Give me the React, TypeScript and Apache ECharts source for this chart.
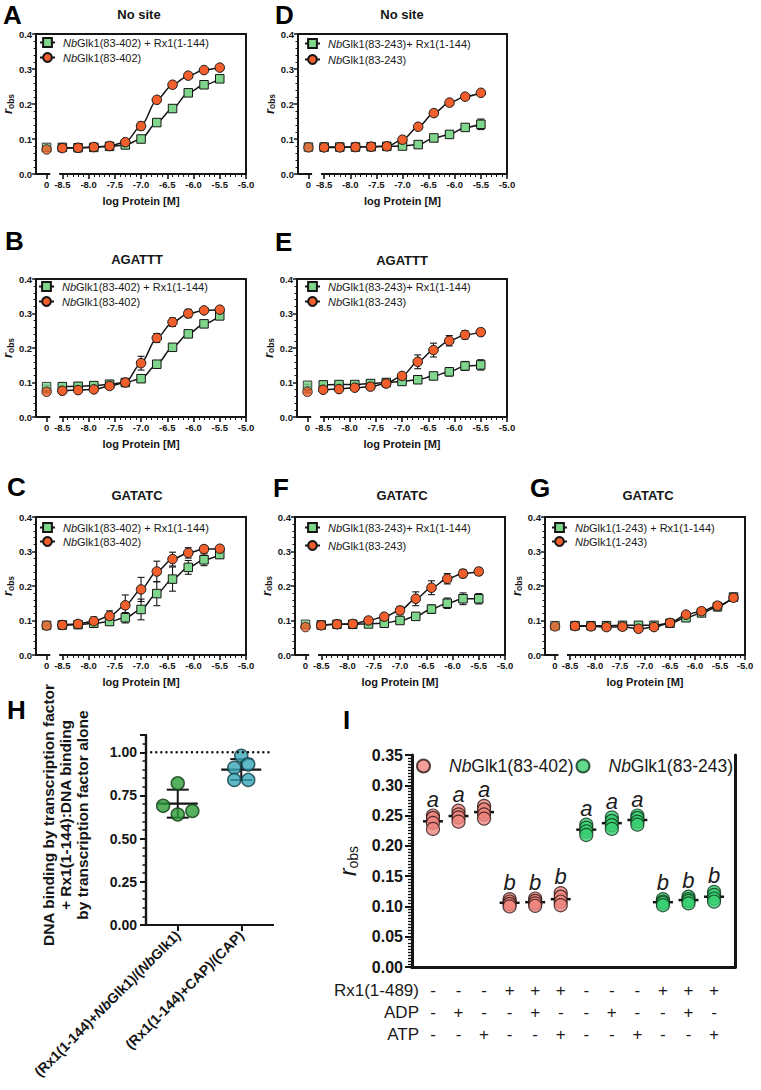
import React, { useEffect, useRef } from 'react';
import * as echarts from 'echarts';

const FONT = '"Liberation Sans", Arial, Helvetica, sans-serif';
const INK = '#151515';
const GREEN_SQ = '#80d68c';
const RED_CI = '#f1602c';

// ---------------- data ----------------
// log10 protein concentration (M) of the titration points
const logProtein = [-8.5, -8.2, -7.9, -7.6, -7.3, -7.0, -6.7, -6.4, -6.1, -5.8, -5.5];
const logProteinG = [-8.4, -8.08, -7.77, -7.45, -7.13, -6.82, -6.5, -6.18, -5.87, -5.55, -5.23];
const xTickValues = [-8.5, -8.0, -7.5, -7.0, -6.5, -6.0, -5.5, -5.0];
const zeroLabel = '0';

// r_obs values; first entry = no-protein control ("0")
const aPlusRx = [0.076, 0.076, 0.075, 0.076, 0.079, 0.083, 0.100, 0.147, 0.187, 0.232, 0.255, 0.272];
const aPlusRxErr = [0.004, 0.003, 0.003, 0.003, 0.003, 0.004, 0.006, 0.005, 0.005, 0.005, 0.005, 0.005];
const aAlone = [0.070, 0.074, 0.075, 0.077, 0.080, 0.091, 0.137, 0.212, 0.255, 0.281, 0.297, 0.304];
const aAloneErr = [0.003, 0.003, 0.003, 0.003, 0.003, 0.004, 0.011, 0.005, 0.005, 0.004, 0.004, 0.004];

const bPlusRx = [0.088, 0.088, 0.089, 0.091, 0.095, 0.100, 0.111, 0.153, 0.202, 0.241, 0.270, 0.293];
const bPlusRxErr = [0.004, 0.004, 0.004, 0.004, 0.004, 0.004, 0.010, 0.006, 0.006, 0.006, 0.006, 0.006];
const bAlone = [0.073, 0.076, 0.078, 0.080, 0.090, 0.100, 0.156, 0.229, 0.275, 0.300, 0.309, 0.311];
const bAloneErr = [0.003, 0.003, 0.003, 0.003, 0.003, 0.004, 0.020, 0.013, 0.012, 0.012, 0.008, 0.005];

const cPlusRx = [0.086, 0.087, 0.088, 0.092, 0.097, 0.108, 0.132, 0.178, 0.220, 0.254, 0.276, 0.291];
const cPlusRxErr = [0.003, 0.003, 0.004, 0.006, 0.010, 0.015, 0.030, 0.035, 0.035, 0.020, 0.017, 0.010];
const cAlone = [0.085, 0.087, 0.090, 0.098, 0.113, 0.144, 0.190, 0.242, 0.278, 0.296, 0.307, 0.308];
const cAloneErr = [0.003, 0.004, 0.006, 0.012, 0.015, 0.030, 0.035, 0.030, 0.020, 0.015, 0.010, 0.008];

const dPlusRx = [0.077, 0.077, 0.077, 0.077, 0.078, 0.079, 0.080, 0.084, 0.103, 0.113, 0.133, 0.142];
const dPlusRxErr = [0.003, 0.003, 0.003, 0.003, 0.003, 0.003, 0.004, 0.004, 0.005, 0.006, 0.008, 0.015];
const dAlone = [0.076, 0.076, 0.076, 0.077, 0.078, 0.079, 0.098, 0.135, 0.174, 0.204, 0.221, 0.232];
const dAloneErr = [0.003, 0.003, 0.003, 0.003, 0.003, 0.003, 0.004, 0.008, 0.008, 0.005, 0.004, 0.004];

const ePlusRx = [0.092, 0.093, 0.094, 0.094, 0.097, 0.100, 0.103, 0.108, 0.119, 0.131, 0.148, 0.151];
const ePlusRxErr = [0.003, 0.003, 0.003, 0.003, 0.003, 0.004, 0.005, 0.006, 0.008, 0.012, 0.013, 0.015];
const eAlone = [0.073, 0.079, 0.081, 0.085, 0.088, 0.097, 0.119, 0.160, 0.194, 0.221, 0.238, 0.246];
const eAloneErr = [0.003, 0.003, 0.003, 0.003, 0.003, 0.004, 0.006, 0.020, 0.020, 0.015, 0.012, 0.010];

const fPlusRx = [0.089, 0.087, 0.089, 0.089, 0.090, 0.092, 0.100, 0.112, 0.133, 0.150, 0.163, 0.163];
const fPlusRxErr = [0.003, 0.003, 0.003, 0.003, 0.003, 0.004, 0.005, 0.008, 0.012, 0.015, 0.017, 0.015];
const fAlone = [0.081, 0.086, 0.089, 0.090, 0.100, 0.111, 0.129, 0.163, 0.195, 0.221, 0.236, 0.242];
const fAloneErr = [0.003, 0.003, 0.003, 0.003, 0.005, 0.007, 0.012, 0.020, 0.020, 0.015, 0.012, 0.010];

const gPlusRx = [0.085, 0.085, 0.085, 0.085, 0.086, 0.086, 0.086, 0.092, 0.108, 0.122, 0.140, 0.168];
const gPlusRxErr = [0.003, 0.003, 0.003, 0.003, 0.003, 0.003, 0.003, 0.004, 0.005, 0.010, 0.012, 0.006];
const gAlone = [0.083, 0.084, 0.083, 0.081, 0.082, 0.076, 0.081, 0.093, 0.117, 0.127, 0.143, 0.166];
const gAloneErr = [0.003, 0.003, 0.003, 0.003, 0.003, 0.003, 0.003, 0.003, 0.004, 0.005, 0.006, 0.006];

// panel H: ratio of DNA binding
const hCategories = ['(Rx1(1-144)+NbGlk1)/(NbGlk1)', '(Rx1(1-144)+CAP)/(CAP)'];
const hRxNbGlk1 = [0.82, 0.69, 0.66, 0.64];
const hRxCap = [0.98, 0.93, 0.91, 0.84, 0.84];

// panel I: r_obs replicates per condition
const i402 = [
  [0.250, 0.246, 0.238, 0.228],
  [0.258, 0.252, 0.247, 0.240],
  [0.266, 0.260, 0.252, 0.245],
  [0.112, 0.108, 0.104, 0.100],
  [0.113, 0.109, 0.105, 0.101],
  [0.122, 0.116, 0.108, 0.102],
];
const i243 = [
  [0.235, 0.230, 0.224, 0.218],
  [0.247, 0.241, 0.234, 0.228],
  [0.250, 0.246, 0.240, 0.235],
  [0.112, 0.108, 0.106, 0.102],
  [0.116, 0.112, 0.109, 0.105],
  [0.124, 0.119, 0.113, 0.108],
];
const iLetters = ['a', 'a', 'a', 'b', 'b', 'b', 'a', 'a', 'a', 'b', 'b', 'b'];
const rx1Row = ['-', '-', '-', '+', '+', '+', '-', '-', '-', '+', '+', '+'];
const adpRow = ['-', '+', '-', '-', '+', '-', '-', '+', '-', '-', '+', '-'];
const atpRow = ['-', '-', '+', '-', '-', '+', '-', '-', '+', '-', '-', '+'];
const rowNames = ['Rx1(1-489)', 'ADP', 'ATP'];

// ---------------- layout ----------------
const ZERO_AT = -8.8; // axis position of the "0" control on the broken axis

const curvePanels = [
  { id: 'A', title: 'No site', box: { left: 33, top: 34, width: 213, height: 140 }, letterXY: [3, 2], titleXY: [139, 14], leg: { left: 39, top: 37, gap: 4 },
    conc: logProtein, plus: aPlusRx, plusErr: aPlusRxErr, alone: aAlone, aloneErr: aAloneErr, plusLabel: 'NbGlk1(83-402) + Rx1(1-144)', aloneLabel: 'NbGlk1(83-402)' },
  { id: 'D', title: 'No site', box: { left: 298, top: 34, width: 209, height: 140 }, letterXY: [275, 2], titleXY: [402, 14], leg: { left: 304, top: 38, gap: 5 },
    conc: logProtein, plus: dPlusRx, plusErr: dPlusRxErr, alone: dAlone, aloneErr: dAloneErr, plusLabel: 'NbGlk1(83-243)+ Rx1(1-144)', aloneLabel: 'NbGlk1(83-243)' },
  { id: 'B', title: 'AGATTT', box: { left: 33, top: 279, width: 213, height: 138 }, letterXY: [5, 228], titleXY: [137, 259], leg: { left: 38, top: 281, gap: 4 },
    conc: logProtein, plus: bPlusRx, plusErr: bPlusRxErr, alone: bAlone, aloneErr: bAloneErr, plusLabel: 'NbGlk1(83-402) + Rx1(1-144)', aloneLabel: 'NbGlk1(83-402)' },
  { id: 'E', title: 'AGATTT', box: { left: 297, top: 279, width: 210, height: 138 }, letterXY: [275, 229], titleXY: [402, 260], leg: { left: 304, top: 281, gap: 4 },
    conc: logProtein, plus: ePlusRx, plusErr: ePlusRxErr, alone: eAlone, aloneErr: eAloneErr, plusLabel: 'NbGlk1(83-243)+ Rx1(1-144)', aloneLabel: 'NbGlk1(83-243)' },
  { id: 'C', title: 'GATATC', box: { left: 33, top: 517, width: 213, height: 138 }, letterXY: [7, 474], titleXY: [137, 495], leg: { left: 39, top: 522, gap: 3 },
    conc: logProtein, plus: cPlusRx, plusErr: cPlusRxErr, alone: cAlone, aloneErr: cAloneErr, plusLabel: 'NbGlk1(83-402) + Rx1(1-144)', aloneLabel: 'NbGlk1(83-402)' },
  { id: 'F', title: 'GATATC', box: { left: 295, top: 517, width: 210, height: 138 }, letterXY: [273, 475], titleXY: [402, 495], leg: { left: 304, top: 522, gap: 7 },
    conc: logProtein, plus: fPlusRx, plusErr: fPlusRxErr, alone: fAlone, aloneErr: fAloneErr, plusLabel: 'NbGlk1(83-243)+ Rx1(1-144)', aloneLabel: 'NbGlk1(83-243)' },
  { id: 'G', title: 'GATATC', box: { left: 545, top: 517, width: 200, height: 138 }, letterXY: [530, 475], titleXY: [648, 495], leg: { left: 551, top: 522, gap: 3 },
    conc: logProteinG, plus: gPlusRx, plusErr: gPlusRxErr, alone: gAlone, aloneErr: gAloneErr, plusLabel: 'NbGlk1(1-243) + Rx1(1-144)', aloneLabel: 'NbGlk1(1-243)' },
];

const hJitter1 = [0, -0.23, 0.23, 0];
const hJitter2 = [0, 0.11, -0.11, -0.11, 0.11];

// ---------------- helpers ----------------
const italicNb = (s: string) => s.replace(/Nb/g, '{i|Nb}');
const mean = (a: number[]) => a.reduce((s, v) => s + v, 0) / a.length;
const sd = (a: number[]) => {
  const m = mean(a);
  return Math.sqrt(a.reduce((s, v) => s + (v - m) * (v - m), 0) / (a.length - 1));
};

function errorBars(capHalf: number, width: number) {
  return (_params: any, api: any) => {
    const x = api.value(0), y = api.value(1), e = api.value(2);
    const hi = api.coord([x, y + e]);
    const lo = api.coord([x, y - e]);
    const st = { stroke: INK, lineWidth: width };
    return {
      type: 'group',
      children: [
        { type: 'line', shape: { x1: hi[0], y1: hi[1], x2: lo[0], y2: lo[1] }, style: st },
        { type: 'line', shape: { x1: hi[0] - capHalf, y1: hi[1], x2: hi[0] + capHalf, y2: hi[1] }, style: st },
        { type: 'line', shape: { x1: lo[0] - capHalf, y1: lo[1], x2: lo[0] + capHalf, y2: lo[1] }, style: st },
      ],
    };
  };
}

function meanSd(meanHalf: number, meanW: number, capHalf: number, barW: number) {
  return (_params: any, api: any) => {
    const x = api.value(0), m = api.value(1), e = api.value(2);
    const c = api.coord([x, m]);
    const hi = api.coord([x, m + e]);
    const lo = api.coord([x, m - e]);
    const st = { stroke: INK, lineWidth: barW };
    return {
      type: 'group',
      children: [
        { type: 'line', shape: { x1: hi[0], y1: hi[1], x2: lo[0], y2: lo[1] }, style: st },
        { type: 'line', shape: { x1: hi[0] - capHalf, y1: hi[1], x2: hi[0] + capHalf, y2: hi[1] }, style: st },
        { type: 'line', shape: { x1: lo[0] - capHalf, y1: lo[1], x2: lo[0] + capHalf, y2: lo[1] }, style: st },
        { type: 'line', shape: { x1: c[0] - meanHalf, y1: c[1], x2: c[0] + meanHalf, y2: c[1] }, style: { stroke: INK, lineWidth: meanW } },
      ],
    };
  };
}

const axisSegment = (_params: any, api: any) => {
  const a = api.coord([api.value(0), api.value(1)]);
  const b = api.coord([api.value(2), api.value(1)]);
  return { type: 'line', shape: { x1: a[0], y1: a[1], x2: b[0], y2: b[1] }, style: { stroke: INK, lineWidth: 2 } };
};

const panelLetter = (text: string, x: number, y: number) => ({
  type: 'text', x, y,
  style: { text, fontFamily: FONT, fontSize: 26, fontWeight: 'bold', fill: '#000', align: 'left', verticalAlign: 'top' },
});

function buildOption(): any {
  const grid: any[] = [];
  const xAxis: any[] = [];
  const yAxis: any[] = [];
  const series: any[] = [];
  const legend: any[] = [];
  const graphic: any[] = [];
  const nameText: Record<string, string> = {};

  const hidden = { show: false };
  const box = (w: number) => ({ show: true, lineStyle: { color: INK, width: w } });
  const txt = { fontFamily: FONT, color: INK };

  const minorX: number[] = [];
  for (let i = 0; i < xTickValues.length - 1; i++) {
    for (let k = 1; k < 5; k++) minorX.push(+(xTickValues[i] + k * 0.1).toFixed(2));
  }
  const majorsX = [ZERO_AT, ...xTickValues];

  curvePanels.forEach((p) => {
    const gi = grid.length;
    grid.push({ left: p.box.left, top: p.box.top, width: p.box.width, height: p.box.height });
    const xi = xAxis.length;
    xAxis.push({
      gridIndex: gi, type: 'value', position: 'bottom', min: -9, max: -5,
      axisLine: hidden, splitLine: hidden,
      axisTick: { show: true, customValues: majorsX, length: 5, lineStyle: { color: INK, width: 1.6 } },
      axisLabel: {
        show: true, customValues: majorsX, ...txt, fontSize: 9.5, fontWeight: 'bold', margin: 5,
        formatter: (v: number) => (Math.abs(v - ZERO_AT) < 1e-6 ? zeroLabel : v.toFixed(1)),
      },
      name: 'log Protein [M]', nameLocation: 'middle', nameGap: 21,
      nameTextStyle: { ...txt, fontSize: 11, fontWeight: 'bold' },
    });
    xAxis.push({
      gridIndex: gi, type: 'value', position: 'bottom', min: -9, max: -5, axisLine: hidden, splitLine: hidden,
      axisTick: { show: true, customValues: minorX, length: 3, lineStyle: { color: INK, width: 1 } }, axisLabel: hidden,
    });
    xAxis.push({ gridIndex: gi, type: 'value', position: 'top', min: -9, max: -5, axisLine: box(2), axisTick: hidden, axisLabel: hidden, splitLine: hidden });
    const yi = yAxis.length;
    yAxis.push({
      gridIndex: gi, type: 'value', position: 'left', min: 0, max: 0.4, interval: 0.1,
      axisLine: box(2), splitLine: hidden,
      axisTick: { show: true, length: 4, lineStyle: { color: INK, width: 1.5 } },
      minorTick: { show: true, splitNumber: 5, length: 2.5, lineStyle: { color: INK, width: 1 } },
      axisLabel: { ...txt, fontSize: 9.5, fontWeight: 'bold', margin: 4, formatter: (v: number) => v.toFixed(1) },
      name: '{r|r}{s|obs}', nameLocation: 'middle', nameGap: 11, nameRotate: 90,
      nameTextStyle: {
        rich: {
          r: { fontFamily: FONT, fontSize: 13, fontStyle: 'italic', fontWeight: 'bold', color: INK },
          s: { fontFamily: FONT, fontSize: 8.5, fontWeight: 'bold', color: INK, padding: [6, 0, 0, 0] },
        },
      },
    });
    yAxis.push({ gridIndex: gi, type: 'value', position: 'right', min: 0, max: 0.4, axisLine: box(2), axisTick: hidden, axisLabel: hidden, splitLine: hidden });

    const ax = { xAxisIndex: xi, yAxisIndex: yi };
    series.push({ type: 'custom', ...ax, silent: true, data: [[-9, 0, -8.73], [-8.56, 0, -5]], renderItem: axisSegment });

    const addSample = (id: string, label: string, vals: number[], errs: number[], symbol: string, color: string, size: number) => {
      nameText[id] = label;
      series.push({
        type: 'custom', ...ax, silent: true, renderItem: errorBars(3.5, 1.1),
        data: [[ZERO_AT, vals[0], errs[0]], ...p.conc.map((c, i) => [c, vals[i + 1], errs[i + 1]])],
      });
      const style = { color, borderColor: INK, borderWidth: 1 };
      series.push({
        type: 'line', name: id, ...ax, data: p.conc.map((c, i) => [c, vals[i + 1]]),
        symbol, symbolSize: size, smooth: 0.3, smoothMonotone: 'x', itemStyle: style,
        lineStyle: { color: INK, width: 1.5 }, emphasis: { disabled: true },
      });
      series.push({
        type: 'scatter', name: id + '_ctrl', ...ax, data: [[ZERO_AT, vals[0]]],
        symbol, symbolSize: size, itemStyle: style, emphasis: { disabled: true },
      });
    };
    addSample(p.id + '_plus', p.plusLabel, p.plus, p.plusErr, 'rect', GREEN_SQ, 8.5);
    addSample(p.id + '_alone', p.aloneLabel, p.alone, p.aloneErr, 'circle', RED_CI, 9.5);

    legend.push({
      show: true, left: p.leg.left, top: p.leg.top, orient: 'vertical', padding: 0, itemGap: p.leg.gap,
      itemWidth: 15, itemHeight: 11, selectedMode: false,
      data: [p.id + '_plus', p.id + '_alone'],
      formatter: (name: string) => italicNb(nameText[name] || name),
      textStyle: {
        fontFamily: FONT, fontSize: 11, color: '#1a1a1a', padding: [0, 0, 0, 3],
        rich: { i: { fontFamily: FONT, fontSize: 11, fontStyle: 'italic', color: '#1a1a1a' } },
      },
    });

    graphic.push(panelLetter(p.id, p.letterXY[0], p.letterXY[1]));
    graphic.push({ type: 'text', x: p.titleXY[0], y: p.titleXY[1], style: { text: p.title, fontFamily: FONT, fontSize: 13, fontWeight: 'bold', fill: INK, align: 'center', verticalAlign: 'middle' } });
  });

  // ---------------- panel H ----------------
  {
    const gi = grid.length;
    grid.push({ left: 146, top: 735, width: 127, height: 190 });
    const xi = xAxis.length;
    xAxis.push({
      gridIndex: gi, type: 'value', position: 'bottom', min: 0, max: 2, splitLine: hidden,
      axisLine: box(2.2),
      axisTick: { show: true, customValues: [0.5, 1.5], length: 6, lineStyle: { color: INK, width: 2 } },
      axisLabel: {
        show: true, customValues: [0.5, 1.5], rotate: 45, margin: 8, ...txt, fontSize: 14, fontWeight: 'bold',
        formatter: (v: number) => italicNb(hCategories[Math.round(v - 0.5)]),
        rich: { i: { fontFamily: FONT, fontSize: 14, fontWeight: 'bold', fontStyle: 'italic', color: INK } },
      },
    });
    xAxis.push({ gridIndex: gi, type: 'value', position: 'top', min: 0, max: 2, axisLine: box(2.2), axisTick: hidden, axisLabel: hidden, splitLine: hidden });
    const yi = yAxis.length;
    yAxis.push({
      gridIndex: gi, type: 'value', position: 'left', min: 0, max: 1.1, interval: 0.25,
      axisLine: box(2.2), splitLine: hidden,
      axisTick: { show: true, length: 6, lineStyle: { color: INK, width: 2 } },
      minorTick: { show: true, splitNumber: 5, length: 3.5, lineStyle: { color: INK, width: 1.5 } },
      axisLabel: { ...txt, fontSize: 14, fontWeight: 'bold', margin: 9, showMaxLabel: false, formatter: (v: number) => v.toFixed(2) },
    });
    yAxis.push({ gridIndex: gi, type: 'value', position: 'right', min: 0, max: 1.1, axisLine: box(2.2), axisTick: hidden, axisLabel: hidden, splitLine: hidden });
    const ax = { xAxisIndex: xi, yAxisIndex: yi };
    series.push({
      type: 'line', ...ax, silent: true, symbol: 'none', data: [[0, 1], [2, 1]],
      lineStyle: { color: INK, width: 2.4, type: [0.1, 5], cap: 'round' },
    });
    series.push({
      type: 'scatter', ...ax, name: 'H1', symbolSize: 13,
      data: hRxNbGlk1.map((v, i) => [0.5 + hJitter1[i], v]),
      itemStyle: { color: '#2c9c37', borderColor: '#103d15', borderWidth: 1.5 },
    });
    series.push({
      type: 'scatter', ...ax, name: 'H2', symbolSize: 13,
      data: hRxCap.map((v, i) => [1.5 + hJitter2[i], v]),
      itemStyle: { color: '#3aa7b9', borderColor: '#133f47', borderWidth: 1.5 },
    });
    series.push({
      type: 'custom', ...ax, silent: true, renderItem: meanSd(20, 2.2, 11, 2),
      data: [[0.5, mean(hRxNbGlk1), sd(hRxNbGlk1)], [1.5, mean(hRxCap), sd(hRxCap)]],
    });
    graphic.push(panelLetter('H', 7, 697));
    graphic.push({
      type: 'text', x: 65, y: 815, rotation: Math.PI / 2,
      style: {
        text: 'DNA binding by transcription factor\n+ Rx1(1-144):DNA binding\nby transcription factor alone',
        fontFamily: FONT, fontSize: 15.5, fontWeight: 'bold', lineHeight: 17, fill: INK, align: 'center', verticalAlign: 'middle',
      },
    });
  }

  // ---------------- panel I ----------------
  {
    const gi = grid.length;
    grid.push({ left: 412, top: 755, width: 323, height: 212 });
    const xi = xAxis.length;
    const xs = rx1Row.map((_, i) => i + 1);
    xAxis.push({
      gridIndex: gi, type: 'value', position: 'bottom', min: 0.18, max: 12.82, splitLine: hidden,
      axisLine: box(3), axisTick: hidden,
      axisLabel: {
        show: true, customValues: xs, margin: 12, fontFamily: FONT, fontSize: 17, lineHeight: 22, color: '#1a1a1a',
        formatter: (v: number) => {
          const i = Math.round(v) - 1;
          return `${rx1Row[i]}\n${adpRow[i]}\n${atpRow[i]}`;
        },
      },
    });
    xAxis.push({ gridIndex: gi, type: 'value', position: 'top', min: 0.18, max: 12.82, axisLine: box(3), axisTick: hidden, axisLabel: hidden, splitLine: hidden });
    const yi = yAxis.length;
    yAxis.push({
      gridIndex: gi, type: 'value', position: 'left', min: 0, max: 0.35, interval: 0.05,
      axisLine: box(3), splitLine: hidden,
      axisTick: { show: true, length: 7, lineStyle: { color: INK, width: 2 } },
      minorTick: { show: true, splitNumber: 10, length: 4, lineStyle: { color: INK, width: 1.3 } },
      axisLabel: { ...txt, fontSize: 16, fontWeight: 'bold', margin: 9, formatter: (v: number) => v.toFixed(2) },
    });
    yAxis.push({ gridIndex: gi, type: 'value', position: 'right', min: 0, max: 0.35, axisLine: box(3), axisTick: hidden, axisLabel: hidden, splitLine: hidden });
    const ax = { xAxisIndex: xi, yAxisIndex: yi };
    const clusters = [...i402, ...i243];
    series.push({
      type: 'scatter', ...ax, name: 'I402', symbolSize: 13,
      data: i402.flatMap((vals, k) => vals.map((v) => [k + 1, v])),
      itemStyle: { color: '#f0877f', borderColor: '#2a1414', borderWidth: 1.2 },
    });
    series.push({
      type: 'scatter', ...ax, name: 'I243', symbolSize: 13,
      data: i243.flatMap((vals, k) => vals.map((v) => [k + 7, v])),
      itemStyle: { color: '#3ad173', borderColor: '#0f3319', borderWidth: 1.2 },
    });
    series.push({
      type: 'custom', ...ax, silent: true, renderItem: meanSd(10, 2.5, 5, 1.6),
      data: clusters.map((vals, k) => [k + 1, mean(vals), sd(vals)]),
    });
    series.push({
      type: 'custom', ...ax, silent: true,
      data: clusters.map((vals, k) => [k + 1, Math.max(...vals) + 0.027, k]),
      renderItem: (_p: any, api: any) => {
        const pt = api.coord([api.value(0), api.value(1)]);
        return {
          type: 'text', x: pt[0], y: pt[1],
          style: { text: iLetters[api.value(2)], fontFamily: FONT, fontSize: 22, fontStyle: 'italic', fill: '#1a1a1a', align: 'center', verticalAlign: 'middle' },
        };
      },
    });
    nameText['I402'] = 'NbGlk1(83-402)';
    nameText['I243'] = 'NbGlk1(83-243)';
    legend.push({
      show: true, left: 416, top: 757, orient: 'horizontal', padding: 0, itemGap: 2,
      itemWidth: 13, itemHeight: 13, selectedMode: false, data: ['I402', 'I243'],
      formatter: (name: string) => italicNb(nameText[name] || name),
      textStyle: {
        fontFamily: FONT, fontSize: 17.5, color: '#1a1a1a', padding: [0, 0, 0, 14],
        rich: { i: { fontFamily: FONT, fontSize: 17.5, fontStyle: 'italic', color: '#1a1a1a' } },
      },
    });
    graphic.push(panelLetter('I', 343, 707));
    // y-axis title r_obs
    graphic.push({
      type: 'text', x: 348, y: 861, rotation: Math.PI / 2,
      style: {
        text: '{r|r}{s|obs}', align: 'center', verticalAlign: 'middle',
        rich: {
          r: { fontFamily: FONT, fontSize: 23, fontStyle: 'italic', fill: INK },
          s: { fontFamily: FONT, fontSize: 14, fill: INK, padding: [10, 0, 0, 0] },
        },
      },
    });
    rowNames.forEach((n, r) => {
      graphic.push({ type: 'text', x: 419, y: 990 + r * 22, style: { text: n, fontFamily: FONT, fontSize: 17, fill: '#1a1a1a', align: 'right', verticalAlign: 'middle' } });
    });
  }

  return {
    animation: false,
    backgroundColor: '#ffffff',
    textStyle: { fontFamily: FONT },
    grid, xAxis, yAxis, series, legend, graphic,
  };
}

export default function App() {
  const ref = useRef<HTMLDivElement>(null);
  useEffect(() => {
    if (!ref.current) return;
    const chart = echarts.init(ref.current, null, { renderer: 'svg' });
    chart.setOption(buildOption());
    return () => chart.dispose();
  }, []);
  return <div ref={ref} style={{ position: 'fixed', left: 0, top: 0, width: 761, height: 1090, background: '#fff' }} />;
}
